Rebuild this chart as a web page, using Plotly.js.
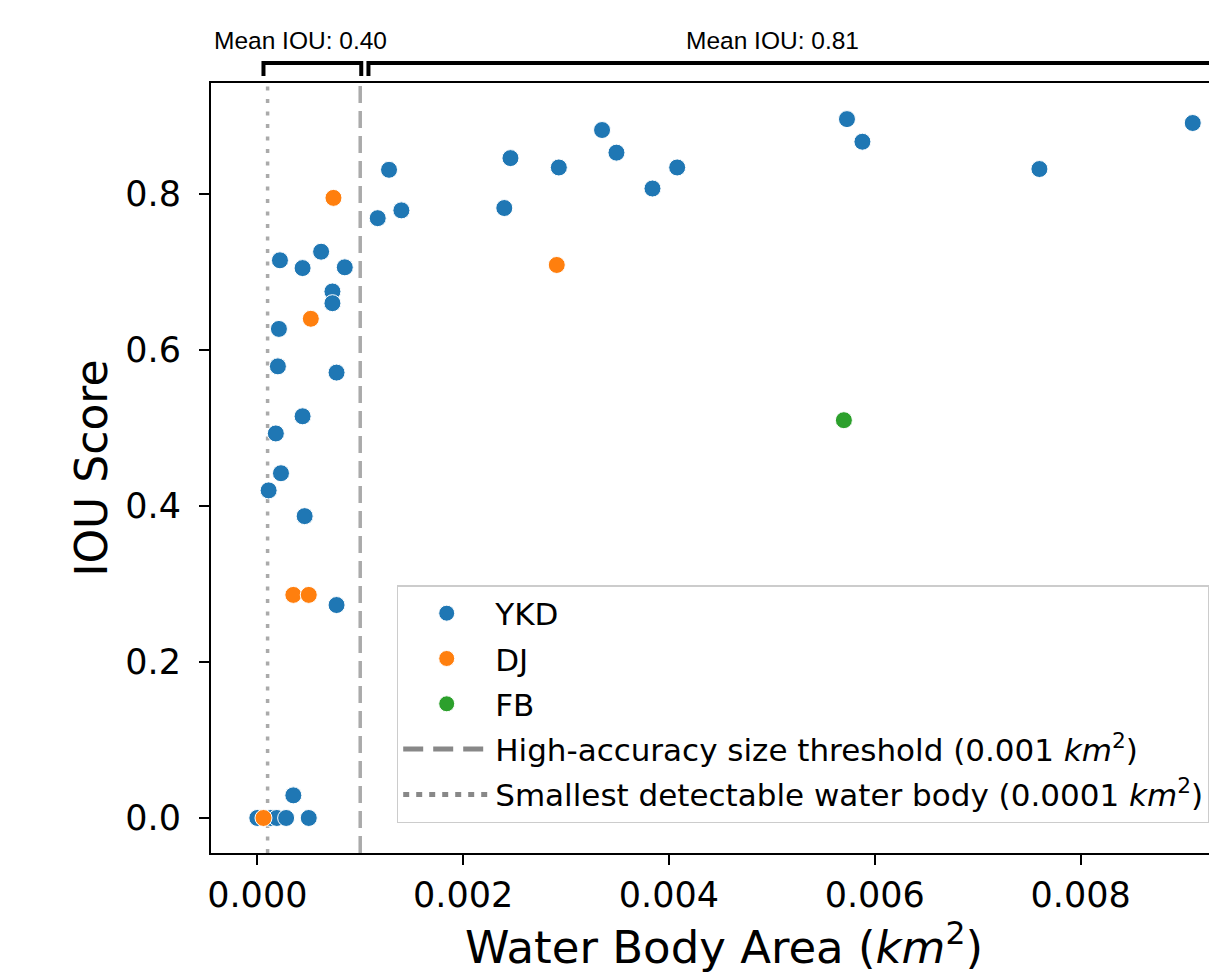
<!DOCTYPE html>
<html>
<head>
<meta charset="utf-8">
<script src="https://cdn.plot.ly/plotly-3.0.1.min.js"></script>
<style>
html,body{margin:0;padding:0;background:#fff;overflow:hidden;width:1209px;height:975px;}
#chart{width:1250px;height:975px;}
</style>
</head>
<body>
<div id="chart"></div>
<script>
// ---- data ----
const ykdArea = [0.00909, 0.00573, 0.00588, 0.00760, 0.00335, 0.00349, 0.00384, 0.00408,
  0.00246, 0.00293, 0.00240, 0.00128, 0.00117, 0.00140, 0.00022, 0.00044, 0.00062, 0.00085,
  0.00073, 0.00073, 0.00021, 0.00020, 0.00077, 0.00044, 0.00018, 0.00023, 0.00011, 0.00046,
  0.00077, 0.00035, 0.00000, 0.00013, 0.00019, 0.00028, 0.00050];
const ykdIou = [0.891, 0.896, 0.867, 0.832, 0.882, 0.853, 0.807, 0.834,
  0.846, 0.834, 0.782, 0.831, 0.769, 0.779, 0.715, 0.705, 0.726, 0.706,
  0.675, 0.660, 0.627, 0.579, 0.571, 0.515, 0.493, 0.442, 0.420, 0.387,
  0.273, 0.029, 0.000, 0.000, 0.000, 0.000, 0.000];
const djArea = [0.00074, 0.00291, 0.00052, 0.00035, 0.00050, 0.00006];
const djIou  = [0.795, 0.709, 0.640, 0.286, 0.286, 0.000];
const fbArea = [0.00570];
const fbIou  = [0.510];
const highAccThreshold = 0.001;
const smallestDetectable = 0.0001;
const meanIouSmall = "Mean IOU: 0.40";
const meanIouLarge = "Mean IOU: 0.81";
const xTickVals = [0, 0.002, 0.004, 0.006, 0.008];
const xTickText = ["0.000", "0.002", "0.004", "0.006", "0.008"];
const yTickVals = [0, 0.2, 0.4, 0.6, 0.8];
const yTickText = ["0.0", "0.2", "0.4", "0.6", "0.8"];

const FONT = "DejaVu Sans, sans-serif";
const colors = {ykd: "#1f77b4", dj: "#ff7f0e", fb: "#2ca02c"};
const xRange = [-0.00045, 0.00952];
const yRange = [-0.0449, 0.9423];

function pts(name, x, y, c) {
  return {type: "scatter", mode: "markers", name: name, x: x, y: y, legendgroup: name,
    marker: {color: c, size: 17, line: {color: "#ffffff", width: 1}},
    hoverinfo: "x+y"};
}
const traces = [
  pts("YKD", ykdArea, ykdIou, colors.ykd),
  pts("DJ", djArea, djIou, colors.dj),
  pts("FB", fbArea, fbIou, colors.fb),
  {type: "scatter", mode: "lines", x: [null], y: [null], showlegend: true, legendgroup: "hi",
   name: "High-accuracy size threshold (0.001 <i>km</i><sup>2</sup>)",
   line: {color: "#888888", width: 5, dash: "20px,10px"}},
  {type: "scatter", mode: "lines", x: [null], y: [null], showlegend: true, legendgroup: "sm",
   name: "Smallest detectable water body (0.0001 <i>km</i><sup>2</sup>)",
   line: {color: "#888888", width: 5, dash: "6px,7px"}}
];

const bracketY = 1.026, bracketTick = 1.009;
const brk = (x0, x1) => ({type: "path", xref: "x", yref: "paper",
  path: `M ${x0},${bracketTick} L ${x0},${bracketY} L ${x1},${bracketY} L ${x1},${bracketTick}`,
  line: {color: "#000", width: 4}});

const layout = {
  width: 1250, height: 975,
  margin: {l: 211, r: 13, t: 83, b: 122},
  paper_bgcolor: "#fff", plot_bgcolor: "#fff",
  font: {family: FONT, color: "#000"},
  showlegend: true,
  legend: {x: 0.181, y: 0.348, xanchor: "left", yanchor: "top",
    bgcolor: "rgba(255,255,255,0.8)", bordercolor: "#cccccc", borderwidth: 1.5,
    tracegroupgap: 2, itemwidth: 87,
    font: {family: FONT, size: 31, color: "#000"}},
  xaxis: {range: xRange, tickvals: xTickVals, ticktext: xTickText,
    showgrid: false, zeroline: false, showline: true, mirror: true,
    linecolor: "#000", linewidth: 2, ticks: "outside", ticklen: 10, tickwidth: 2,
    tickcolor: "#000", tickfont: {family: FONT, size: 35, color: "#000"},
    title: {text: "Water Body Area (<i>km</i><sup>2</sup>)", standoff: 12,
      font: {family: FONT, size: 45, color: "#000"}}},
  yaxis: {range: yRange, tickvals: yTickVals, ticktext: yTickText,
    showgrid: false, zeroline: false, showline: true, mirror: true,
    linecolor: "#000", linewidth: 2, ticks: "outside", ticklen: 10, tickwidth: 2,
    ticklabelstandoff: 11,
    tickcolor: "#000", tickfont: {family: FONT, size: 35, color: "#000"},
    title: {text: "IOU Score", standoff: 4,
      font: {family: FONT, size: 44, color: "#000"}}},
  shapes: [
    {type: "line", xref: "x", yref: "paper", x0: highAccThreshold, x1: highAccThreshold,
     y0: 0, y1: 1, line: {color: "#aaaaaa", width: 3.5, dash: "17px,8px"}, layer: "below"},
    {type: "line", xref: "x", yref: "paper", x0: smallestDetectable, x1: smallestDetectable,
     y0: 0, y1: 1, line: {color: "#aaaaaa", width: 3.5, dash: "4px,8.5px"}, layer: "below"},
    brk(0.00006, 0.00101),
    brk(0.00108, 0.0105)
  ],
  annotations: [
    {xref: "x", yref: "paper", x: 0.00042, y: 1.035, yanchor: "bottom", showarrow: false,
     text: meanIouSmall, font: {family: "Liberation Sans, Arial, sans-serif", size: 24.5, color: "#000"}},
    {xref: "x", yref: "paper", x: 0.00501, y: 1.035, yanchor: "bottom", showarrow: false,
     text: meanIouLarge, font: {family: "Liberation Sans, Arial, sans-serif", size: 24.5, color: "#000"}}
  ]
};
Plotly.newPlot("chart", traces, layout, {displayModeBar: false, staticPlot: true});
</script>
</body>
</html>
